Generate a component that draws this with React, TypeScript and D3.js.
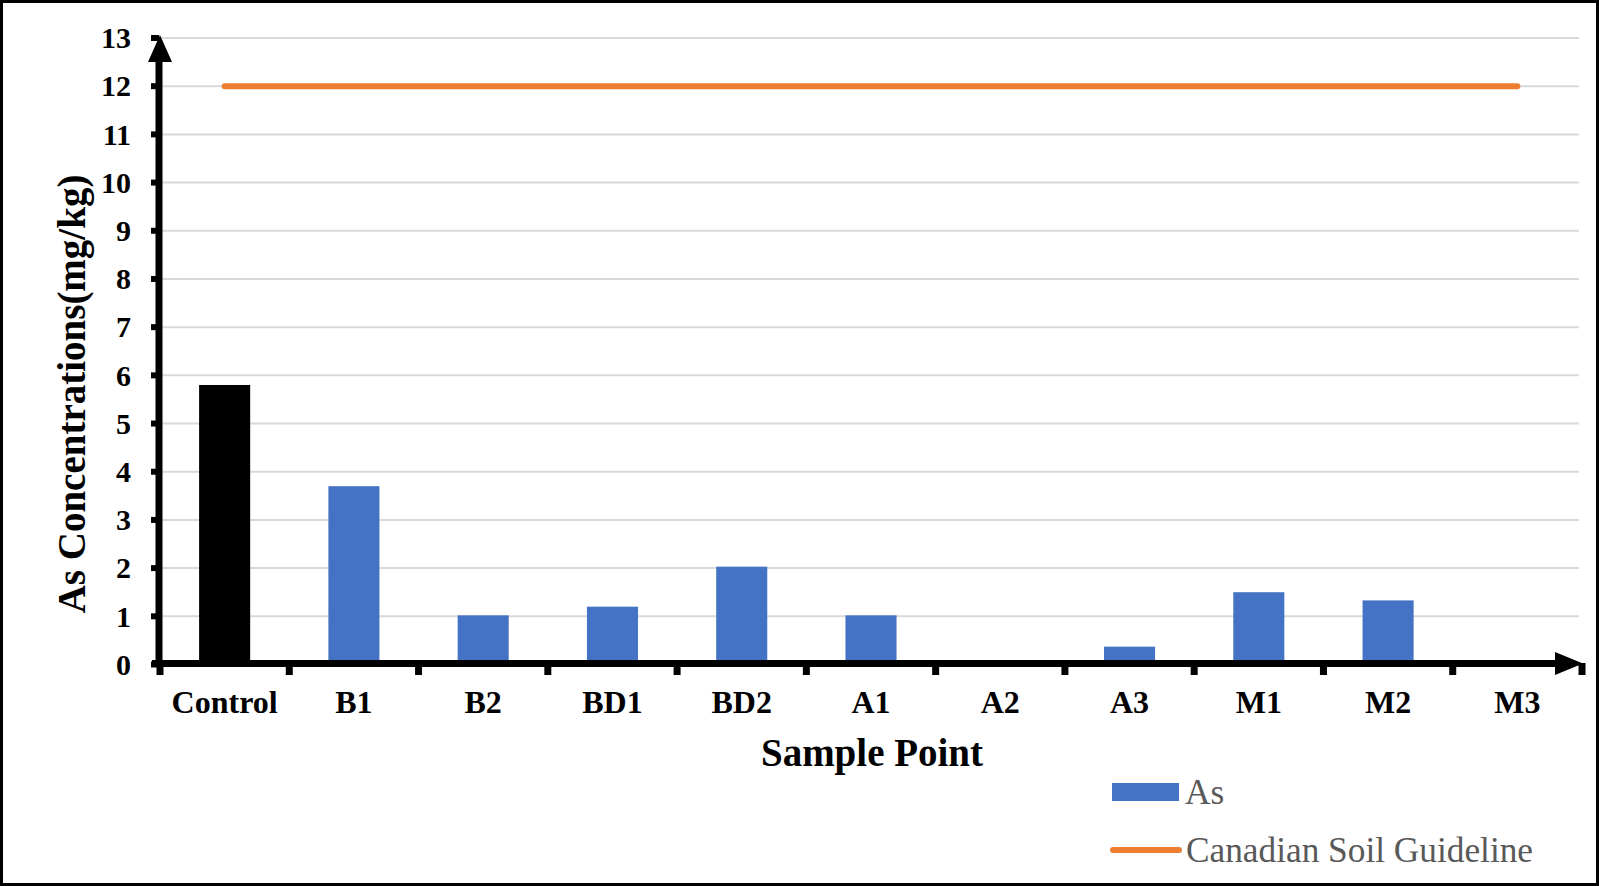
import React from 'react'
import * as d3 from 'd3'

const categories = ['Control', 'B1', 'B2', 'BD1', 'BD2', 'A1', 'A2', 'A3', 'M1', 'M2', 'M3']
const asValues = [5.8, 3.7, 1.02, 1.2, 2.03, 1.02, 0, 0.37, 1.5, 1.33, 0]
const guideline = [12, 12, 12, 12, 12, 12, 12, 12, 12, 12, 12]
const yTicks = [0, 1, 2, 3, 4, 5, 6, 7, 8, 9, 10, 11, 12, 13]

const W = 1599
const H = 886
const FONT = '"Liberation Serif", "Times New Roman", serif'

export default function App() {
  const x = d3.scaleBand<string>().domain(categories).range([160, 1582]).padding(0)
  const y = d3.scaleLinear().domain([0, 13]).range([664.5, 38])
  const barW = x.bandwidth() * 0.395
  const cx = (c: string) => (x(c) as number) + x.bandwidth() / 2

  const line = d3
    .line<number>()
    .x((_, i) => cx(categories[i]))
    .y(d => y(d))

  const boundaries = d3.range(categories.length + 1).map(i => 160 + i * x.step())

  return (
    <div style={{ position: 'absolute', left: 0, top: 0 }}>
      <svg width={W} height={H} style={{ display: 'block', background: '#fff' }}>
        <rect x={1.5} y={1.5} width={W - 3} height={H - 3} fill="#fff" stroke="#000" strokeWidth={3} />

        {/* gridlines */}
        {yTicks.map(t => (
          <line key={'g' + t} x1={160} x2={1579} y1={y(t)} y2={y(t)} stroke="#d9d9d9" strokeWidth={2} />
        ))}

        {/* bars */}
        {categories.map((c, i) => (
          <rect
            key={c}
            x={cx(c) - barW / 2}
            y={y(asValues[i])}
            width={barW}
            height={y(0) - y(asValues[i])}
            fill={c === 'Control' ? '#000000' : '#4472C4'}
          />
        ))}

        {/* guideline */}
        <path d={line(guideline) || ''} fill="none" stroke="#ED7D31" strokeWidth={6} strokeLinecap="round" />

        {/* y axis */}
        <line x1={159} x2={159} y1={667} y2={55} stroke="#000" strokeWidth={7} />
        <path d="M160,35 L148,62 L172,62 Z" fill="#000" />
        {yTicks.map(t => (
          <g key={'yt' + t}>
            <line x1={151} x2={159} y1={y(t)} y2={y(t)} stroke="#000" strokeWidth={6} />
            <text
              x={131}
              y={y(t)}
              dy="0.34em"
              textAnchor="end"
              fontFamily={FONT}
              fontWeight="bold"
              fontSize={30}
              fill="#000"
            >
              {t}
            </text>
          </g>
        ))}

        {/* x axis */}
        <line x1={152} x2={1560} y1={663.5} y2={663.5} stroke="#000" strokeWidth={7} />
        <path d="M1583,663.5 L1555,652 L1555,675 Z" fill="#000" />
        {boundaries.map((b, i) => (
          <line key={'xt' + i} x1={b} x2={b} y1={663} y2={675} stroke="#000" strokeWidth={7} />
        ))}
        {categories.map(c => (
          <text
            key={'xl' + c}
            x={cx(c)}
            y={713}
            textAnchor="middle"
            fontFamily={FONT}
            fontWeight="bold"
            fontSize={32}
            fill="#000"
          >
            {c}
          </text>
        ))}

        {/* axis titles */}
        <text
          transform="translate(85,394) rotate(-90)"
          textAnchor="middle"
          fontFamily={FONT}
          fontWeight="bold"
          fontSize={39}
          fill="#000"
        >
          As Concentrations(mg/kg)
        </text>
        <text x={872} y={766} textAnchor="middle" fontFamily={FONT} fontWeight="bold" fontSize={39} fill="#000">
          Sample Point
        </text>

        {/* legend */}
        <rect x={1112} y={783} width={67} height={18} fill="#4472C4" />
        <text x={1185} y={804} fontFamily={FONT} fontSize={35.3} fill="#595959">
          As
        </text>
        <line x1={1113} x2={1179} y1={850} y2={850} stroke="#ED7D31" strokeWidth={6} strokeLinecap="round" />
        <text x={1186} y={862} fontFamily={FONT} fontSize={35.3} fill="#595959">
          Canadian Soil Guideline
        </text>
      </svg>
    </div>
  )
}
